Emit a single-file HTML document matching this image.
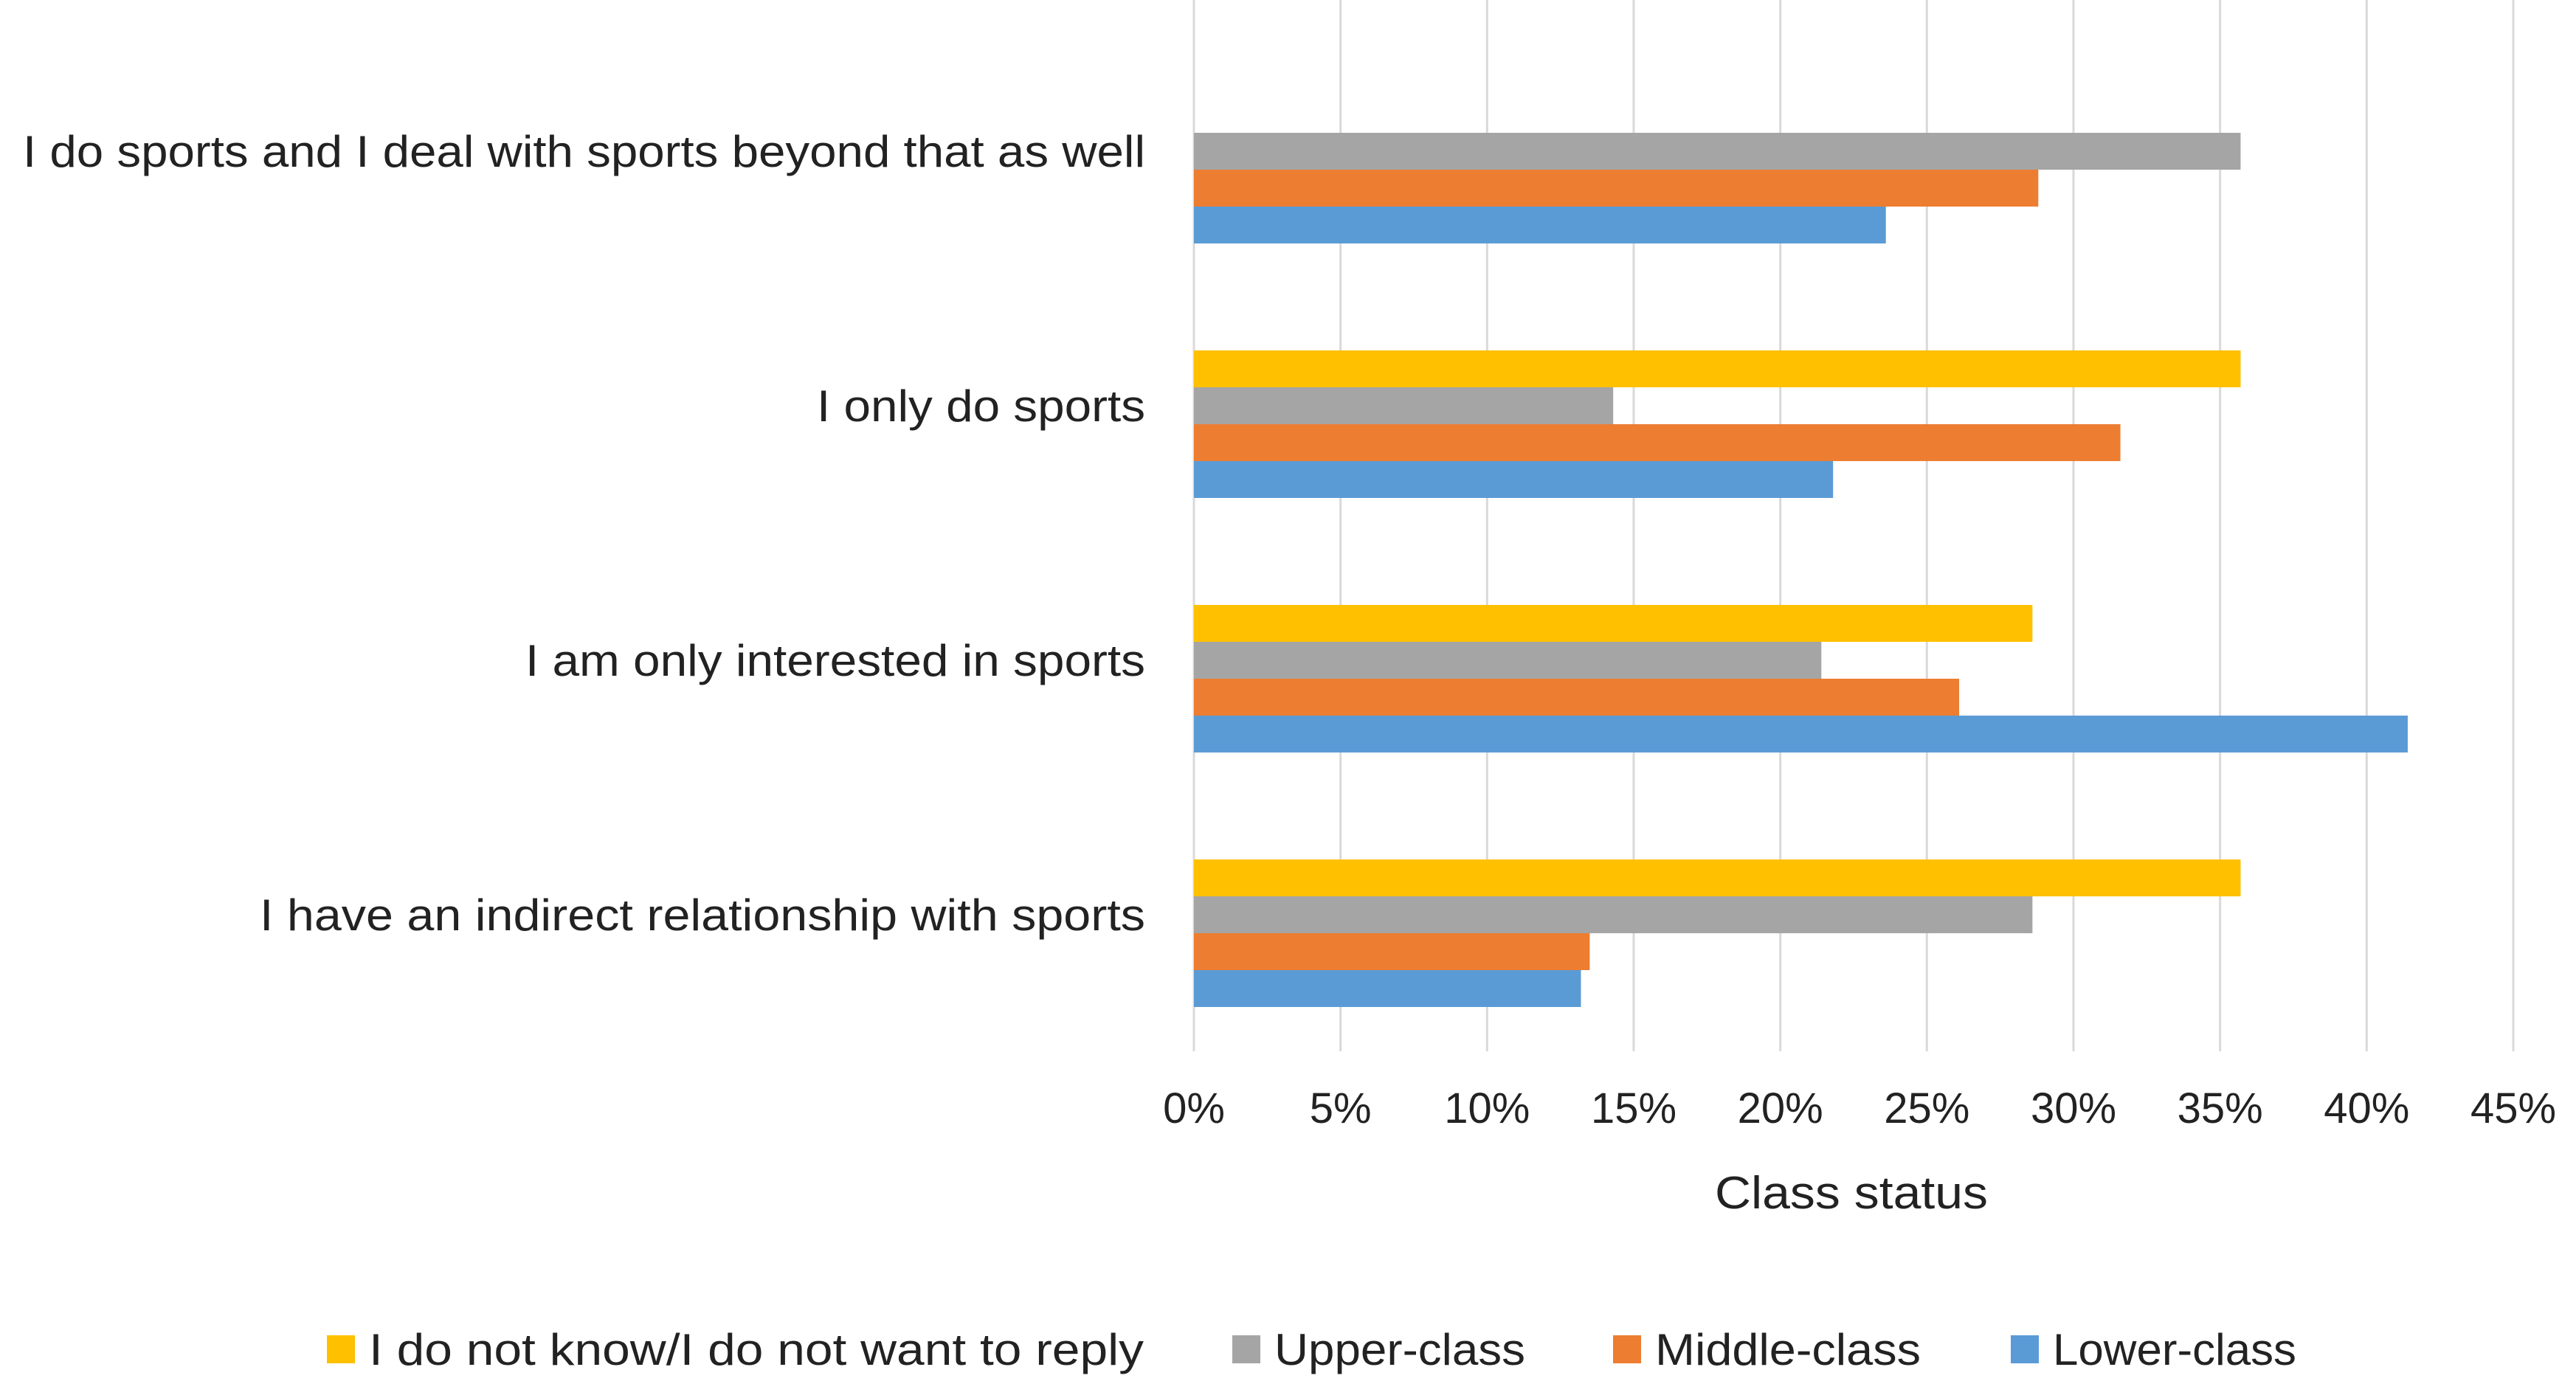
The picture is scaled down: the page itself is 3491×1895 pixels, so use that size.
<!DOCTYPE html>
<html><head><meta charset="utf-8"><style>
html,body{margin:0;padding:0;background:#fff;}
svg{display:block;font-family:"Liberation Sans",sans-serif;}
</style></head><body>
<svg id="chart" width="3491" height="1895" viewBox="0 0 3491 1895" xmlns="http://www.w3.org/2000/svg">
<rect width="3491" height="1895" fill="#fff"/>
<g id="grid"></g>
<g id="bars"></g>
<g id="cats"></g>
<g id="ticks"></g>
<text x="2509" y="1638" font-size="62" text-anchor="middle" fill="#222" textLength="370" lengthAdjust="spacingAndGlyphs">Class status</text>
<g id="legend"></g>
</svg>
<script>
const categories = ["I do sports and I deal with sports beyond that as well","I only do sports","I am only interested in sports","I have an indirect relationship with sports"];
const seriesNames = ["I do not know/I do not want to reply","Upper-class","Middle-class","Lower-class"];
const dontKnow = [0, 35.7, 28.6, 35.7];
const upper = [35.7, 14.3, 21.4, 28.6];
const middle = [28.8, 31.6, 26.1, 13.5];
const lower = [23.6, 21.8, 41.4, 13.2];
const tickValues = [0,5,10,15,20,25,30,35,40,45];
const tickLabels = ["0%","5%","10%","15%","20%","25%","30%","35%","40%","45%"];

const series = [dontKnow, upper, middle, lower];
const colors = ["#FFC000","#A5A5A5","#ED7D31","#5B9BD5"];
const NS = "http://www.w3.org/2000/svg";
const x0 = 1618, x1 = 3406, maxV = 45;
const xs = v => x0 + (x1 - x0) * v / maxV;
const bandTop = 58, band = 345, barH = 50, barOff = 72;
function mk(tag, attrs, parent, text){
  const e = document.createElementNS(NS, tag);
  for (const k in attrs) e.setAttribute(k, attrs[k]);
  if (text !== undefined) e.textContent = text;
  parent.appendChild(e); return e;
}
const grid = document.getElementById('grid');
const ticks = document.getElementById('ticks');
tickValues.forEach((v, i) => {
  const l = mk('line', {x1: xs(v), x2: xs(v), y1: 0, y2: 1425, stroke: '#d9d9d9', 'stroke-width': 3}, grid);
  
  
  const t = mk('text', {x: xs(v), y: 1522, 'font-size': 58, 'text-anchor': 'middle', fill: '#222'}, ticks, tickLabels[i]);
  
  
});
const bars = document.getElementById('bars');
const cats = document.getElementById('cats');
const catWidths = [1521, 445, 840, 1200];
categories.forEach((c, ci) => {
  const gy = bandTop + ci * band + barOff;
  series.forEach((s, si) => {
    const v = s[ci];
    if (v <= 0) return;
    const r = mk('rect', {x: xs(0), y: gy + si * barH, width: xs(v) - xs(0), height: barH, fill: colors[si]}, bars);
    
    
  });
  const t = mk('text', {x: 1552, y: gy + 96, 'font-size': 60, 'text-anchor': 'end', fill: '#222', textLength: catWidths[ci], lengthAdjust: 'spacingAndGlyphs'}, cats, c);
  
  
});
const legend = document.getElementById('legend');
const lx = [443, 1670, 2186, 2725];
const lw = [1050, 340, 360, 330];
seriesNames.forEach((n, i) => {
  const r = mk('rect', {x: lx[i], y: 1810, width: 38, height: 38, fill: colors[i]}, legend);
  
  
  const t = mk('text', {x: lx[i] + 57, y: 1850, 'font-size': 60, fill: '#222', textLength: lw[i], lengthAdjust: 'spacingAndGlyphs'}, legend, n);
  
  
});
</script>
</body></html>
